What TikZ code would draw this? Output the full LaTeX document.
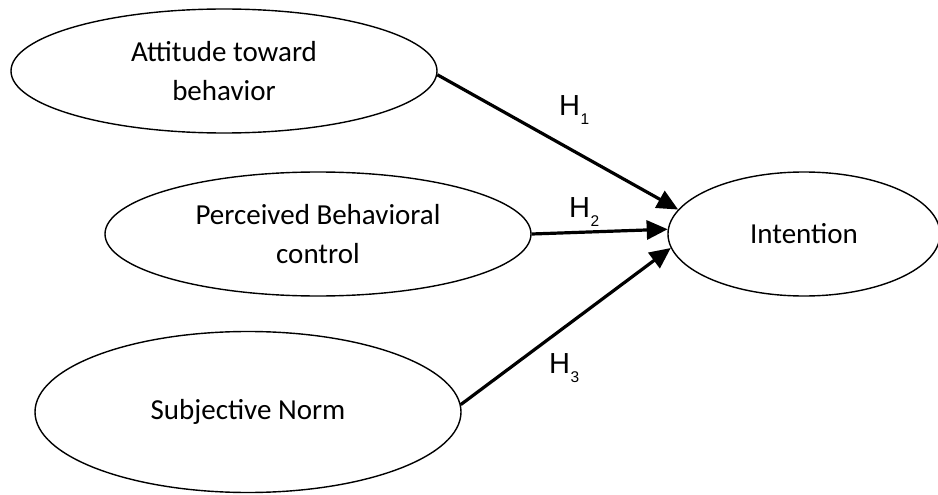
\documentclass[tikz,border=0pt]{standalone}
\usepackage{fontspec}
\setmainfont{Carlito}
\newfontfamily\hfont{Liberation Sans}
\usetikzlibrary{shapes.geometric,arrows.meta}
\begin{document}
\begin{tikzpicture}[x=1pt,y=-1pt,
  oval/.style={ellipse,draw,line width=1.4pt,inner sep=0pt,align=center,
    font=\fontsize{29}{39}\selectfont},
  hyp/.style={-{Triangle[length=21pt,width=19pt]},line width=3.2pt},
  hlab/.style={anchor=base west,inner sep=0pt,font=\hfont\fontsize{29}{29}\selectfont}]
\useasboundingbox (0,0) rectangle (938,495);
\node[oval,minimum width=426pt,minimum height=124pt] (att) at (224,71) {Attitude toward\\behavior};
\node[oval,minimum width=426pt,minimum height=124pt] (pbc) at (318,234) {Perceived Behavioral\\control};
\node[oval,minimum width=426pt,minimum height=161pt] (sub) at (248,412) {Subjective Norm};
\node[oval,minimum width=272pt,minimum height=124pt] (int) at (804,234) {Intention};
\draw[hyp] (att.-1) -- (int.169);
\draw[hyp] (pbc.east) -- (int.178);
\draw[hyp] (sub.2) -- (int.186);
\newcommand{\hlabtext}[1]{H\kern0.5pt\raisebox{-9pt}{\fontsize{15.5}{15.5}\selectfont #1}}
\node[hlab] (h1) at (559,116) {\hlabtext{1}};
\node[hlab] (h2) at (569,217) {\hlabtext{2}};
\node[hlab] (h3) at (549,373) {\hlabtext{3}};
\end{tikzpicture}
\end{document}
